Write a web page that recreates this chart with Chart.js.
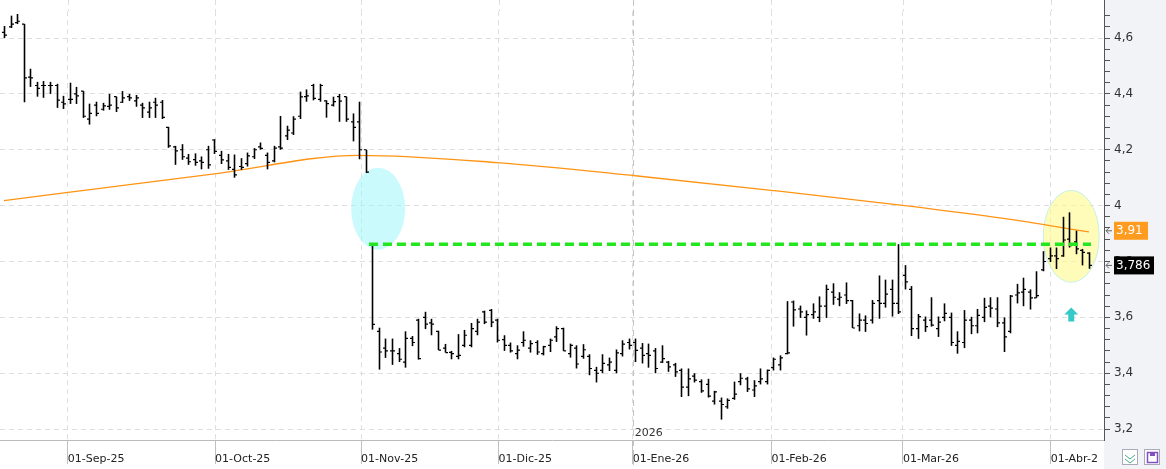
<!DOCTYPE html>
<html><head><meta charset="utf-8">
<script src="https://cdn.jsdelivr.net/npm/chart.js@4.4.1/dist/chart.umd.min.js"></script>
<style>html,body{margin:0;padding:0;background:#fff;}#wrap{width:1166px;height:469px;}</style>
</head><body><div id="wrap"><canvas id="c" width="1166" height="469"></canvas></div>
<script>
const highs=[4.643,4.68,4.686,4.65,4.49,4.443,4.446,4.443,4.436,4.393,4.44,4.425,4.41,4.365,4.372,4.368,4.4,4.39,4.41,4.4,4.396,4.368,4.372,4.386,4.378,4.282,4.214,4.22,4.185,4.187,4.176,4.214,4.238,4.196,4.185,4.183,4.17,4.19,4.206,4.226,4.19,4.214,4.321,4.286,4.32,4.408,4.416,4.436,4.436,4.377,4.39,4.4,4.39,4.33,4.372,4.2,3.862,3.563,3.524,3.524,3.49,3.55,3.533,3.595,3.62,3.595,3.552,3.505,3.48,3.54,3.555,3.58,3.595,3.624,3.63,3.595,3.536,3.51,3.5,3.55,3.518,3.518,3.498,3.524,3.568,3.563,3.506,3.5,3.504,3.468,3.423,3.468,3.456,3.485,3.518,3.524,3.524,3.508,3.506,3.49,3.5,3.444,3.437,3.417,3.417,3.4,3.378,3.38,3.337,3.313,3.31,3.37,3.4,3.387,3.375,3.417,3.413,3.456,3.464,3.658,3.66,3.642,3.625,3.65,3.675,3.717,3.722,3.69,3.725,3.662,3.614,3.607,3.662,3.75,3.735,3.735,3.862,3.787,3.712,3.612,3.603,3.672,3.603,3.65,3.617,3.55,3.626,3.602,3.63,3.67,3.672,3.672,3.6,3.68,3.72,3.742,3.7,3.765,3.837,3.85,3.85,3.96,3.976,3.91,3.845,3.833];
const lows=[4.60,4.636,4.65,4.37,4.425,4.39,4.386,4.40,4.35,4.346,4.364,4.364,4.314,4.29,4.32,4.34,4.343,4.335,4.368,4.375,4.354,4.314,4.314,4.314,4.31,4.207,4.146,4.164,4.146,4.143,4.13,4.132,4.185,4.149,4.128,4.10,4.128,4.14,4.167,4.2,4.13,4.155,4.2,4.235,4.253,4.31,4.372,4.377,4.372,4.315,4.355,4.3,4.3,4.23,4.166,4.117,3.556,3.413,3.455,3.43,3.44,3.42,3.497,3.449,3.558,3.536,3.483,3.474,3.45,3.45,3.493,3.493,3.536,3.576,3.565,3.51,3.48,3.474,3.45,3.495,3.474,3.466,3.464,3.476,3.512,3.48,3.456,3.417,3.452,3.393,3.367,3.4,3.408,3.4,3.46,3.485,3.44,3.435,3.42,3.4,3.437,3.405,3.387,3.315,3.318,3.367,3.33,3.313,3.288,3.234,3.273,3.305,3.357,3.333,3.315,3.36,3.36,3.41,3.41,3.468,3.567,3.598,3.535,3.595,3.583,3.598,3.645,3.64,3.648,3.562,3.55,3.548,3.578,3.595,3.635,3.603,3.612,3.7,3.533,3.523,3.548,3.567,3.53,3.586,3.498,3.47,3.49,3.54,3.543,3.583,3.6,3.565,3.476,3.543,3.65,3.64,3.628,3.67,3.765,3.798,3.773,3.817,3.85,3.826,3.786,3.774];
const closes=[4.61,4.65,4.66,4.457,4.457,4.42,4.43,4.43,4.378,4.364,4.38,4.393,4.32,4.33,4.33,4.357,4.36,4.35,4.386,4.386,4.386,4.35,4.35,4.36,4.316,4.214,4.196,4.175,4.157,4.155,4.155,4.146,4.194,4.164,4.137,4.11,4.137,4.178,4.2,4.205,4.155,4.206,4.206,4.27,4.31,4.389,4.393,4.384,4.43,4.365,4.372,4.374,4.31,4.28,4.2,4.12,3.575,3.476,3.48,3.48,3.45,3.525,3.51,3.452,3.576,3.576,3.483,3.474,3.47,3.464,3.536,3.56,3.583,3.583,3.583,3.518,3.5,3.48,3.483,3.518,3.506,3.476,3.495,3.518,3.56,3.48,3.5,3.433,3.484,3.417,3.4,3.435,3.44,3.473,3.504,3.5,3.482,3.464,3.464,3.417,3.452,3.423,3.405,3.35,3.38,3.375,3.337,3.318,3.333,3.288,3.303,3.325,3.382,3.344,3.355,3.38,3.41,3.45,3.455,3.473,3.627,3.62,3.61,3.62,3.64,3.7,3.672,3.672,3.66,3.562,3.59,3.578,3.65,3.65,3.683,3.65,3.62,3.727,3.56,3.603,3.567,3.572,3.583,3.614,3.51,3.514,3.59,3.57,3.607,3.636,3.633,3.58,3.53,3.676,3.688,3.7,3.67,3.678,3.8,3.82,3.81,3.877,3.857,3.845,3.833,3.786];
const opens=[4.62,4.64,4.655,4.65,4.46,4.43,4.43,4.43,4.43,4.37,4.38,4.4,4.41,4.31,4.36,4.345,4.355,4.39,4.37,4.39,4.375,4.36,4.335,4.37,4.37,4.28,4.21,4.2,4.17,4.165,4.16,4.2,4.235,4.18,4.16,4.13,4.14,4.15,4.175,4.21,4.18,4.16,4.21,4.25,4.26,4.32,4.39,4.43,4.38,4.375,4.36,4.39,4.39,4.3,4.3,4.2,3.86,3.55,3.49,3.48,3.47,3.44,3.525,3.59,3.6,3.58,3.55,3.49,3.475,3.46,3.5,3.5,3.55,3.62,3.625,3.59,3.52,3.5,3.47,3.51,3.49,3.51,3.47,3.5,3.53,3.56,3.47,3.49,3.46,3.46,3.41,3.41,3.43,3.41,3.47,3.51,3.51,3.49,3.47,3.48,3.44,3.44,3.43,3.41,3.35,3.39,3.37,3.36,3.3,3.3,3.28,3.31,3.37,3.38,3.34,3.37,3.37,3.42,3.43,3.47,3.655,3.63,3.6,3.61,3.6,3.64,3.69,3.665,3.68,3.66,3.57,3.59,3.59,3.66,3.65,3.7,3.65,3.75,3.7,3.56,3.59,3.59,3.56,3.6,3.6,3.5,3.51,3.59,3.57,3.6,3.64,3.63,3.58,3.55,3.68,3.69,3.69,3.67,3.77,3.81,3.82,3.82,3.88,3.87,3.84,3.83];
const smaIdx=[0,32,54,75,96,117,137,152,165];
const smaVal=[4.018,4.114,4.18,4.154,4.107,4.054,4.0,3.954,3.906];
const monthIdx=[9.7,32.1,54.3,75.2,95.6,116.7,136.7,159.2];
const monthLabels=['01-Sep-25','01-Oct-25','01-Nov-25','01-Dic-25','01-Ene-26','01-Feb-26','01-Mar-26','01-Abr-2'];
const supportLevel=3.862, supportFrom=55.5, supportTo=165.3;
const lastSma=3.91, lastClose=3.786;

const ohlc=highs.map((h,i)=>({x:i,o:opens[i],h:h,l:lows[i],c:closes[i]}));
const fmt=v=>{const r=Math.round(v*10)/10;return Number.isInteger(r)?String(r):String(r).replace('.',',');};
function fmt2(v){return v.toFixed(2).replace('.',',');}
function fmt3(v){return v.toFixed(3).replace('.',',');}

const ohlcPlugin={id:'ohlc',
 beforeDraw(chart){
  const {ctx,chartArea:a}=chart;
  ctx.save();ctx.fillStyle='#f2f3f6';ctx.fillRect(a.right,0,1166-a.right,469);ctx.restore();
 },
 beforeDatasetsDraw(chart){
  const {ctx,scales:{x,y},chartArea:a}=chart;
  ctx.save();
  // extend vertical grid and axis line to the top
  ctx.strokeStyle='#dedede';ctx.setLineDash([5,4]);
  monthIdx.forEach(m=>{const px=Math.round(x.getPixelForValue(m))+0.5;ctx.beginPath();ctx.moveTo(px,0);ctx.lineTo(px,a.top);ctx.stroke();});
  ctx.setLineDash([]);ctx.strokeStyle='#555';ctx.beginPath();ctx.moveTo(a.right+0.5,0);ctx.lineTo(a.right+0.5,a.bottom);ctx.stroke();
  for(let k=118;k<=119;k++){const ty=y.getPixelForValue(k*0.04);}
  ctx.fillStyle='rgba(160,245,252,0.55)';ctx.beginPath();
  ctx.ellipse(x.getPixelForValue(56.9),y.getPixelForValue(3.989),27,41,0,0,Math.PI*2);ctx.fill();
  ctx.fillStyle='rgba(255,250,140,0.6)';ctx.strokeStyle='rgba(190,240,230,0.9)';ctx.lineWidth=1;ctx.beginPath();
  ctx.ellipse(x.getPixelForValue(162.3),y.getPixelForValue(3.89),28,46,0,0,Math.PI*2);ctx.fill();ctx.stroke();
  const px=Math.round(x.getPixelForValue(monthIdx[4]))+0.5;
  ctx.strokeStyle='#c4c4c4';ctx.setLineDash([6,4]);ctx.beginPath();ctx.moveTo(px,0);ctx.lineTo(px,a.bottom+25);ctx.stroke();ctx.setLineDash([]);
  ctx.restore();
 },
 afterDatasetsDraw(chart){
  const {ctx,scales:{x,y},chartArea:a}=chart;
  ctx.save();
  ctx.strokeStyle='#000';
  ohlc.forEach(d=>{
   const px=Math.round(x.getPixelForValue(d.x))+0.5;
   ctx.lineWidth=1.6;
   ctx.beginPath();ctx.moveTo(px,y.getPixelForValue(d.h));ctx.lineTo(px,y.getPixelForValue(d.l));ctx.stroke();
   ctx.lineWidth=1.2;
   ctx.beginPath();ctx.moveTo(px-2.5,y.getPixelForValue(d.o));ctx.lineTo(px,y.getPixelForValue(d.o));
   ctx.moveTo(px,y.getPixelForValue(d.c));ctx.lineTo(px+2.5,y.getPixelForValue(d.c));ctx.stroke();
  });
  ctx.strokeStyle='#22e61e';ctx.lineWidth=3.5;ctx.setLineDash([9,5]);
  const sy=y.getPixelForValue(supportLevel);
  ctx.beginPath();ctx.moveTo(x.getPixelForValue(supportFrom),sy);ctx.lineTo(x.getPixelForValue(supportTo),sy);ctx.stroke();ctx.setLineDash([]);
  const ax=x.getPixelForValue(162.3), ay=y.getPixelForValue(3.61);
  ctx.fillStyle='#35c9c9';ctx.beginPath();
  ctx.moveTo(ax,ay-7);ctx.lineTo(ax+7,ay);ctx.lineTo(ax+3,ay);ctx.lineTo(ax+3,ay+7);ctx.lineTo(ax-3,ay+7);ctx.lineTo(ax-3,ay);ctx.lineTo(ax-7,ay);ctx.closePath();ctx.fill();
  ctx.fillStyle='#333';ctx.font='11px "DejaVu Sans", sans-serif';ctx.textBaseline='bottom';
  ctx.fillText('2026',x.getPixelForValue(monthIdx[4])+2,a.bottom-1);
  const boxes=[[lastSma,fmt2(lastSma),'#ff9b1f','#fff'],[lastClose,fmt3(lastClose),'#000','#fff']];
  ctx.font='12px "DejaVu Sans", sans-serif';ctx.textBaseline='middle';
  boxes.forEach(b=>{const by=y.getPixelForValue(b[0]);
   ctx.fillStyle=b[2];ctx.fillRect(a.right+10,by-9,b[1].length>4?40:34,18);
   ctx.fillStyle=b[3];ctx.fillText(b[1],a.right+12,by+0.5);
   ctx.strokeStyle='#666';ctx.lineWidth=1;ctx.beginPath();ctx.moveTo(a.right+2,by);ctx.lineTo(a.right+8,by);
   ctx.moveTo(a.right+2,by);ctx.lineTo(a.right+5,by-3);ctx.moveTo(a.right+2,by);ctx.lineTo(a.right+5,by+3);ctx.stroke();});
  ctx.strokeStyle='#aab';ctx.lineWidth=1;ctx.fillStyle='#fff';ctx.fillRect(1122,449,16,16);ctx.strokeRect(1122.5,449.5,15,15);
  ctx.fillRect(1144,449,16,16);ctx.strokeRect(1144.5,449.5,15,15);
  ctx.strokeStyle='#4a8';ctx.beginPath();ctx.moveTo(1125,455);ctx.lineTo(1130,459);ctx.lineTo(1135,455);ctx.moveTo(1125,459);ctx.lineTo(1130,463);ctx.lineTo(1135,459);ctx.stroke();
  ctx.strokeStyle='#8050c0';ctx.lineWidth=1.5;ctx.strokeRect(1147.5,452.5,10,10);ctx.fillStyle='#8050c0';ctx.fillRect(1150,452,5,4);
  ctx.restore();
 }};

new Chart(document.getElementById('c'),{
 type:'line',
 data:{datasets:[
  {data:smaIdx.map((v,i)=>({x:v,y:smaVal[i]})),borderColor:'#ff9414',borderWidth:1.3,pointRadius:0,cubicInterpolationMode:'monotone'},
  {data:ohlc.map(d=>({x:d.x,y:d.h})),showLine:false,pointRadius:0},
  {data:ohlc.map(d=>({x:d.x,y:d.l})),showLine:false,pointRadius:0}
 ]},
 plugins:[ohlcPlugin],
 options:{responsive:false,animation:false,devicePixelRatio:1,
  layout:{padding:0},
  plugins:{legend:{display:false},tooltip:{enabled:false}},
  scales:{
   x:{type:'linear',min:-0.61,max:167.28,
    afterBuildTicks(s){s.ticks=monthIdx.map(v=>({value:v}));},
    afterFit(s){s.height=29;},
    border:{display:true,color:'#bbb',dash:[5,4]},
    grid:{color:'#dedede',tickLength:24,tickColor:'#c0c0c0',drawTicks:true},
    ticks:{autoSkip:false,maxRotation:0,align:'start',padding:-11,color:'#222',font:{family:'"DejaVu Sans", sans-serif',size:11},
     callback:(v,i)=>monthLabels[i]}
   },
   y:{position:'right',min:3.161,max:4.696,
    afterBuildTicks(s){const t=[];for(let k=80;k<=117;k++)t.push({value:k*0.04});s.ticks=t;},
    afterFit(s){s.width=62;},
    border:{display:true,color:'#555',width:1,dash:[5,4]},
    grid:{color:c=>Math.round(c.tick.value*100)%20===0?'#dedede':'rgba(0,0,0,0)',tickLength:6,tickColor:'#555'},
    ticks:{autoSkip:false,padding:4,color:'#333',font:{family:'"DejaVu Sans", sans-serif',size:12},
     callback:v=>Math.round(v*100)%20===0?fmt(v):''}
   }
  }
 }
});
</script></body></html>
